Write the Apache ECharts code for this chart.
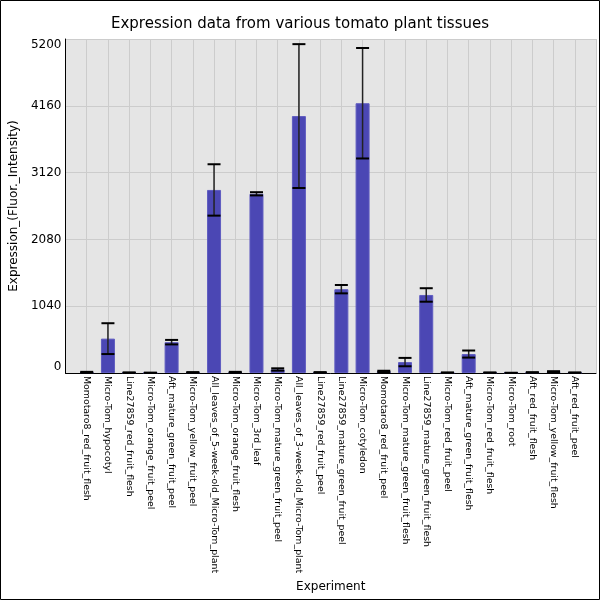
<!DOCTYPE html>
<html>
<head>
<meta charset="utf-8">
<title>Expression data from various tomato plant tissues</title>
<script src="https://cdn.jsdelivr.net/npm/echarts@6/dist/echarts.min.js"></script>
<style>
  html, body { margin: 0; padding: 0; background: #fff; }
  #chart { width: 600px; height: 600px; }
</style>
</head>
<body>
<div id="chart"></div>
<script>
const categories = [
  'Momotaro8_red_fruit_flesh',
  'Micro-Tom_hypocotyl',
  'Line27859_red_fruit_flesh',
  'Micro-Tom_orange_fruit_peel',
  'Aft_mature_green_fruit_peel',
  'Micro-Tom_yellow_fruit_peel',
  'All_leaves_of_5-week-old_Micro-Tom_plant',
  'Micro-Tom_orange_fruit_flesh',
  'Micro-Tom_3rd_leaf',
  'Micro-Tom_mature_green_fruit_peel',
  'All_leaves_of_3-week-old_Micro-Tom_plant',
  'Line27859_red_fruit_peel',
  'Line27859_mature_green_fruit_peel',
  'Micro-Tom_cotyledon',
  'Momotaro8_red_fruit_peel',
  'Micro-Tom_mature_green_fruit_flesh',
  'Line27859_mature_green_fruit_flesh',
  'Micro-Tom_red_fruit_peel',
  'Aft_mature_green_fruit_flesh',
  'Micro-Tom_red_fruit_flesh',
  'Micro-Tom_root',
  'Aft_red_fruit_flesh',
  'Micro-Tom_yellow_fruit_flesh',
  'Aft_red_fruit_peel'
]

// mean expression and +/- error per tissue
const means = [10, 535, 5, 3, 480, 8, 2850, 10, 2790, 55, 4000, 8, 1305, 4200, 25, 170, 1215, 5, 295, 5, 2, 8, 20, 5]
const errors = [8, 240, 5, 3, 35, 6, 400, 8, 25, 18, 1120, 6, 65, 860, 10, 65, 105, 4, 55, 4, 2, 5, 8, 4]

const yTicks = [0, 1040, 2080, 3120, 4160, 5200]

const font = 'DejaVu Sans'

const barData = means.map((m, i) => [i, m])
const errData = means.map((m, i) => [i, m - errors[i], m + errors[i]])

const renderError = (params, api) => {
  const x = api.value(0)
  const top = api.coord([x, api.value(2)])
  const bot = api.coord([x, api.value(1)])
  const half = 6.5
  const cap = y => ({
    type: 'line',
    shape: { x1: top[0] - half, y1: y, x2: top[0] + half, y2: y },
    style: { stroke: '#000', lineWidth: 2 }
  })
  return {
    type: 'group',
    children: [
      {
        type: 'line',
        shape: { x1: top[0], y1: top[1], x2: bot[0], y2: bot[1] },
        style: { stroke: '#222', lineWidth: 1.5 }
      },
      cap(top[1]),
      cap(bot[1])
    ]
  }
}

const chart = echarts.init(document.getElementById('chart'))

chart.setOption({
  animation: false,
  textStyle: { fontFamily: font, color: '#000' },
  title: {
    text: 'Expression data from various tomato plant tissues',
    left: 'center',
    top: 12,
    textStyle: { fontFamily: font, fontSize: 15, fontWeight: 'normal', color: '#000' }
  },
  graphic: [{
    type: 'rect',
    shape: { x: 0.5, y: 0.5, width: 599, height: 599 },
    style: { fill: 'none', stroke: '#000', lineWidth: 1 },
    z: 100
  }],
  grid: {
    left: 65.5,
    top: 39,
    right: 4,
    bottom: 227,
    show: true,
    backgroundColor: '#e5e5e5',
    borderWidth: 0
  },
  xAxis: {
    type: 'value',
    min: -1,
    max: 24,
    interval: 1,
    name: 'Experiment',
    nameLocation: 'middle',
    nameGap: 205,
    nameTextStyle: { fontFamily: font, fontSize: 12, color: '#000' },
    axisLine: { show: true, onZero: false, lineStyle: { color: '#000', width: 1 } },
    axisTick: { show: false },
    splitLine: { show: true, lineStyle: { color: '#cccccc', width: 1 } },
    axisLabel: {
      rotate: -90,
      margin: 3,
      fontSize: 9.4,
      fontFamily: font,
      color: '#000',
      formatter: v => categories[v] || ''
    }
  },
  yAxis: {
    type: 'value',
    min: yTicks[0],
    max: yTicks[yTicks.length - 1],
    interval: yTicks[1] - yTicks[0],
    name: 'Expression_(Fluor._Intensity)',
    nameLocation: 'middle',
    nameGap: 37,
    nameTextStyle: { fontFamily: font, fontSize: 12, color: '#000' },
    axisLine: { show: true, onZero: false, lineStyle: { color: '#000', width: 1 } },
    axisTick: { show: false },
    splitLine: { show: true, lineStyle: { color: '#cccccc', width: 1 } },
    axisLabel: {
      margin: 4,
      fontSize: 12,
      fontFamily: font,
      color: '#000',
      formatter: v => String(v),
      verticalAlignMinLabel: 'bottom',
      verticalAlignMaxLabel: 'top'
    }
  },
  series: [
    {
      type: 'bar',
      data: barData,
      barWidth: 14,
      itemStyle: { color: '#4b47b4', borderColor: '#5f5cc0', borderWidth: 1 }
    },
    {
      type: 'custom',
      data: errData,
      renderItem: renderError,
      encode: { x: 0, y: [1, 2] },
      z: 10
    }
  ]
})
</script>
</body>
</html>
